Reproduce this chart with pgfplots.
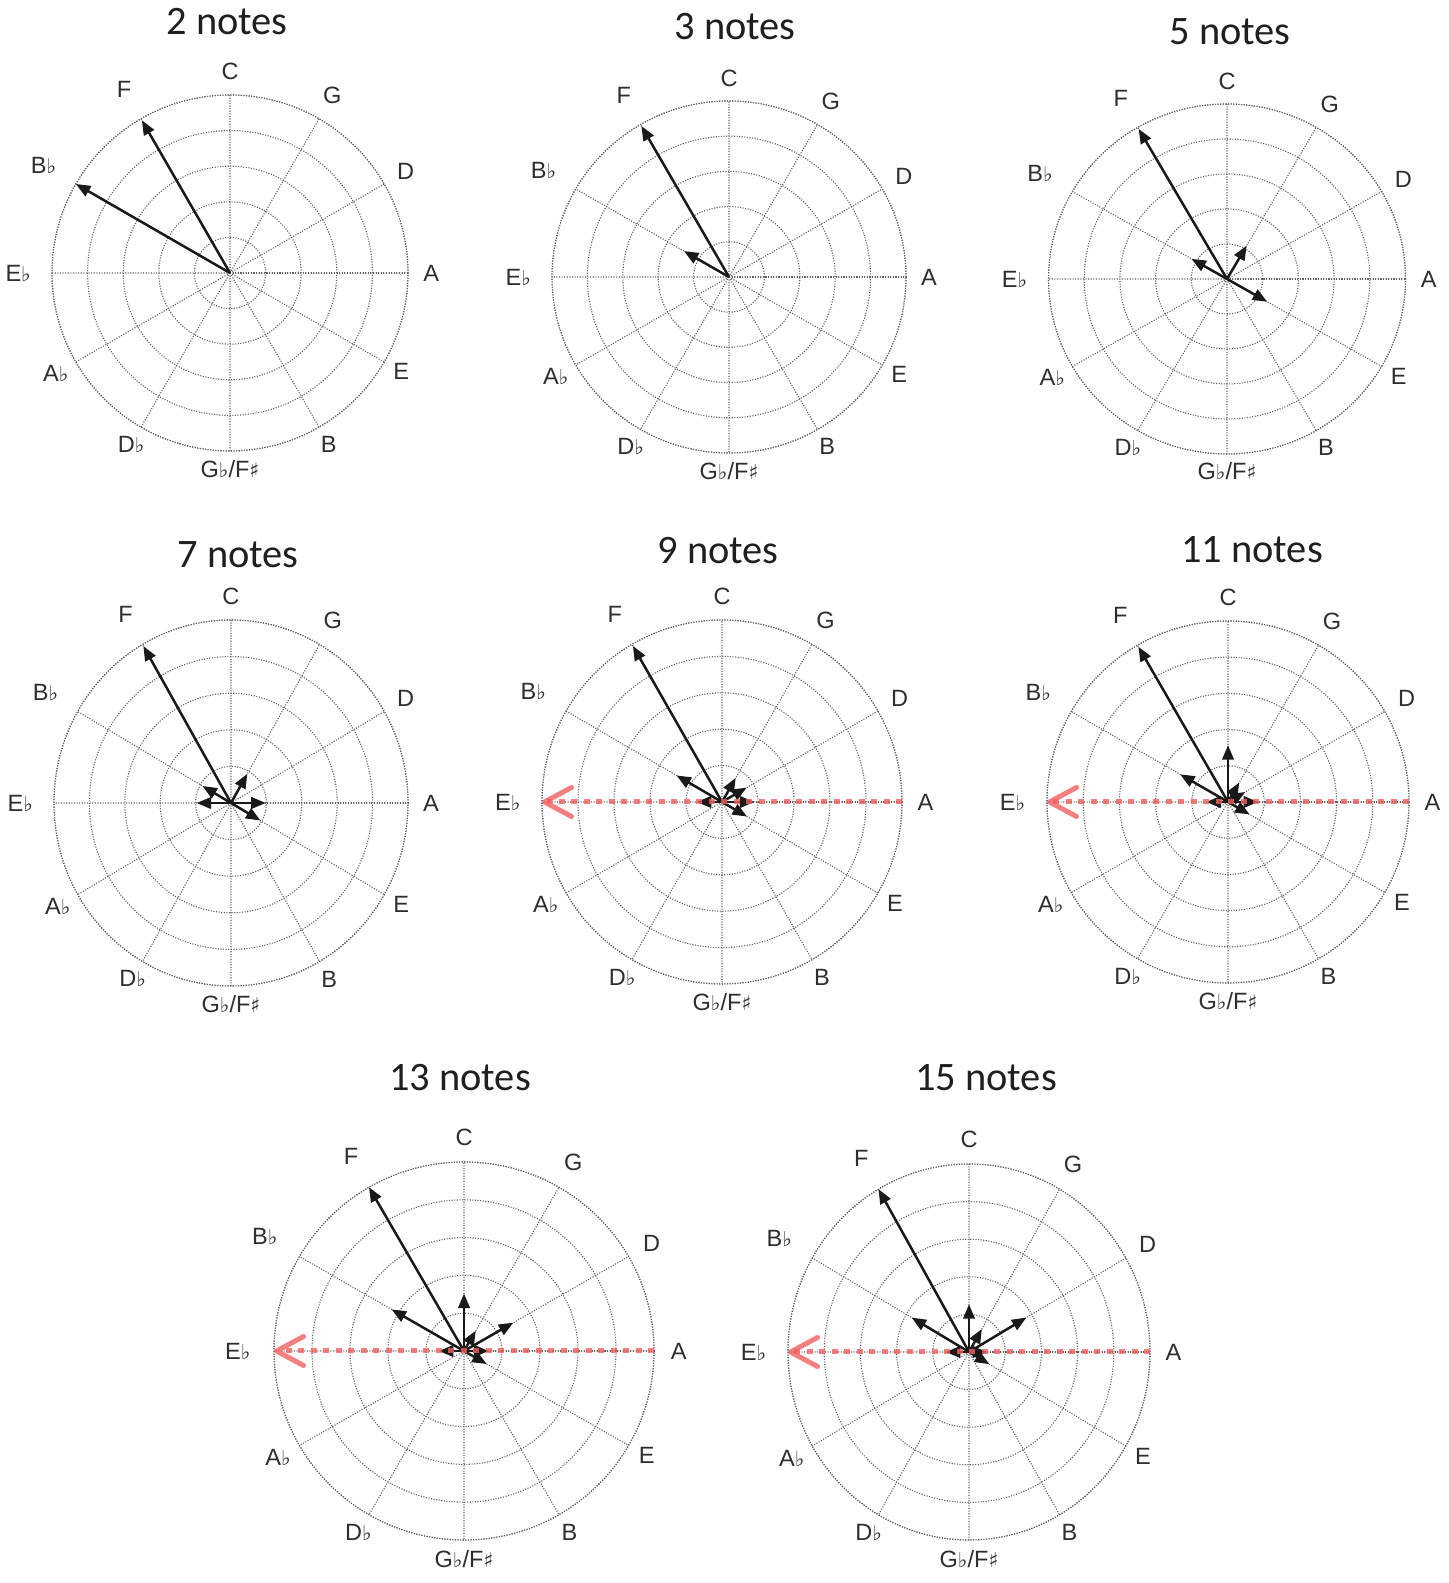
\documentclass[border=0pt]{standalone}
\usepackage{pgfplots}
\pgfplotsset{compat=1.18}
\usepgfplotslibrary{polar}
\usetikzlibrary{arrows.meta}
\usepackage{fontspec}
\setmainfont{Liberation Sans}
\newfontfamily\titlefont{Carlito}
\newfontfamily\symf{DejaVu Sans}
\newcommand\fl{{\symf\fontsize{5.8pt}{6pt}\selectfont ♭}}
\newcommand\sh{{\symf\fontsize{5.8pt}{6pt}\selectfont ♯}}
\definecolor{redarr}{RGB}{240,95,95}
\pgfplotsset{
  cof/.style 2 args={
    scale only axis,
    width=#1, height=#2,
    anchor=center,
    xmin=0, xmax=360, ymin=0, ymax=5,
    xtick={0,30,...,330}, ytick={1,2,3,4,5},
    xticklabels={}, yticklabels={},
    grid=major,
    major grid style={line width=0.11mm, black!62, dash pattern=on 0.11mm off 0.15mm},
    axis line style={line width=0.11mm, black!62, dash pattern=on 0.11mm off 0.15mm},
    tick style={draw=none},
    clip=false,
  },
  arr/.style={line width=0.25mm, black!90, -{Triangle[length=1.45mm,width=1.15mm]}},
  redline/.style={line width=0.5mm, redarr, opacity=0.8, dash pattern=on 0.6mm off 0.65mm,
     -{Straight Barb[length=2.7mm,width=2.9mm,line width=0.5mm,round]}},
}
\tikzset{lab/.style={font=\fontsize{6.7pt}{7pt}\selectfont, text=black!82, inner sep=0pt, anchor=center},
         ttl/.style={font=\titlefont\fontsize{11.5pt}{13pt}\selectfont, text=black!88, inner sep=0pt, anchor=base}}
\newcommand\notelabels{%
  \node[lab] at (axis cs:90,5.65) {C};
  \node[lab] at (axis cs:60,5.75) {G};
  \node[lab] at (axis cs:30,5.7) {D};
  \node[lab] at (axis cs:0,5.65) {A};
  \node[lab] at (axis cs:330,5.55) {E};
  \node[lab] at (axis cs:300,5.55) {B};
  \node[lab] at (axis cs:270,5.5) {G\fl/F\sh};
  \node[lab] at (axis cs:240,5.55) {D\fl};
  \node[lab] at (axis cs:210,5.65) {A\fl};
  \node[lab] at (axis cs:180,5.95) {E\fl};
  \node[lab] at (axis cs:150,6.05) {B\fl};
  \node[lab] at (axis cs:120,5.95) {F};
}
\begin{document}
\begin{tikzpicture}
\path[use as bounding box] (0,0) rectangle (144.8mm,158.3mm);

% 2 notes
\begin{polaraxis}[cof={35.6mm}{35.6mm}, at={(23.0mm,131.0mm)}]
\notelabels
\addplot[arr] coordinates {(0,0) (120,4.95)};
\addplot[arr] coordinates {(0,0) (150,5.0)};
\end{polaraxis}
\node[ttl] at (22.7mm,154.8mm) {2 notes};

% 3 notes
\begin{polaraxis}[cof={35.4mm}{35.2mm}, at={(72.9mm,130.6mm)}]
\notelabels
\addplot[arr] coordinates {(0,0) (120,4.95)};
\addplot[arr] coordinates {(0,0) (150,1.47)};
\end{polaraxis}
\node[ttl] at (73.5mm,154.3mm) {3 notes};

% 5 notes
\begin{polaraxis}[cof={35.7mm}{35.0mm}, at={(122.7mm,130.4mm)}]
\notelabels
\addplot[arr] coordinates {(0,0) (120,4.95)};
\addplot[arr] coordinates {(0,0) (150,1.15)};
\addplot[arr] coordinates {(0,0) (60,1.1)};
\addplot[arr] coordinates {(0,0) (330,1.3)};
\end{polaraxis}
\node[ttl] at (123.0mm,153.8mm) {5 notes};

% 7 notes
\begin{polaraxis}[cof={35.4mm}{36.6mm}, at={(23.1mm,78.0mm)}]
\notelabels
\addplot[arr] coordinates {(0,0) (120,4.95)};
\addplot[arr] coordinates {(0,0) (150,0.93)};
\addplot[arr] coordinates {(0,0) (60,0.92)};
\addplot[arr] coordinates {(0,0) (180,0.97)};
\addplot[arr] coordinates {(0,0) (0,0.98)};
\addplot[arr] coordinates {(0,0) (330,0.96)};
\end{polaraxis}
\node[ttl] at (23.8mm,101.5mm) {7 notes};

% 9 notes
\begin{polaraxis}[cof={36.0mm}{36.4mm}, at={(72.2mm,78.1mm)}]
\notelabels
\addplot[arr] coordinates {(0,0) (120,4.95)};
\addplot[arr] coordinates {(0,0) (150,1.46)};
\addplot[arr] coordinates {(0,0) (60,0.76)};
\addplot[arr] coordinates {(0,0) (30,0.79)};
\addplot[arr] coordinates {(0,0) (0,0.9)};
\addplot[arr] coordinates {(0,0) (180,0.7)};
\addplot[arr] coordinates {(0,0) (330,0.8)};
\addplot[redline] coordinates {(0,5) (180,5)};
\end{polaraxis}
\node[ttl] at (71.8mm,101.9mm) {9 notes};

% 11 notes
\begin{polaraxis}[cof={36.2mm}{36.2mm}, at={(122.8mm,78.1mm)}]
\notelabels
\addplot[arr] coordinates {(0,0) (120,4.95)};
\addplot[arr] coordinates {(0,0) (90,1.57)};
\addplot[arr] coordinates {(0,0) (150,1.53)};
\addplot[arr] coordinates {(0,0) (60,0.62)};
\addplot[arr] coordinates {(0,0) (30,0.55)};
\addplot[arr] coordinates {(0,0) (0,0.83)};
\addplot[arr] coordinates {(0,0) (180,0.6)};
\addplot[arr] coordinates {(0,0) (330,0.69)};
\addplot[redline] coordinates {(0,5) (180,5)};
\end{polaraxis}
\node[ttl] at (125.2mm,102.0mm) {11 notes};

% 13 notes
\begin{polaraxis}[cof={38.0mm}{37.8mm}, at={(46.4mm,23.2mm)}]
\notelabels
\addplot[arr] coordinates {(0,0) (120,5.0)};
\addplot[arr] coordinates {(0,0) (90,1.52)};
\addplot[arr] coordinates {(0,0) (150,2.2)};
\addplot[arr] coordinates {(0,0) (30,1.5)};
\addplot[arr] coordinates {(0,0) (60,0.62)};
\addplot[arr] coordinates {(0,0) (0,0.65)};
\addplot[arr] coordinates {(0,0) (180,0.66)};
\addplot[arr] coordinates {(0,0) (330,0.69)};
\addplot[redline] coordinates {(0,5) (180,5)};
\end{polaraxis}
\node[ttl] at (46.0mm,49.2mm) {13 notes};

% 15 notes
\begin{polaraxis}[cof={36.2mm}{37.6mm}, at={(96.9mm,23.1mm)}]
\notelabels
\addplot[arr] coordinates {(0,0) (120,5.0)};
\addplot[arr] coordinates {(0,0) (90,1.27)};
\addplot[arr] coordinates {(0,0) (150,1.83)};
\addplot[arr] coordinates {(0,0) (30,1.83)};
\addplot[arr] coordinates {(0,0) (60,0.71)};
\addplot[arr] coordinates {(0,0) (0,0.5)};
\addplot[arr] coordinates {(0,0) (180,0.64)};
\addplot[arr] coordinates {(0,0) (330,0.65)};
\addplot[redline] coordinates {(0,5) (180,5)};
\end{polaraxis}
\node[ttl] at (98.6mm,49.2mm) {15 notes};
\end{tikzpicture}
\end{document}
